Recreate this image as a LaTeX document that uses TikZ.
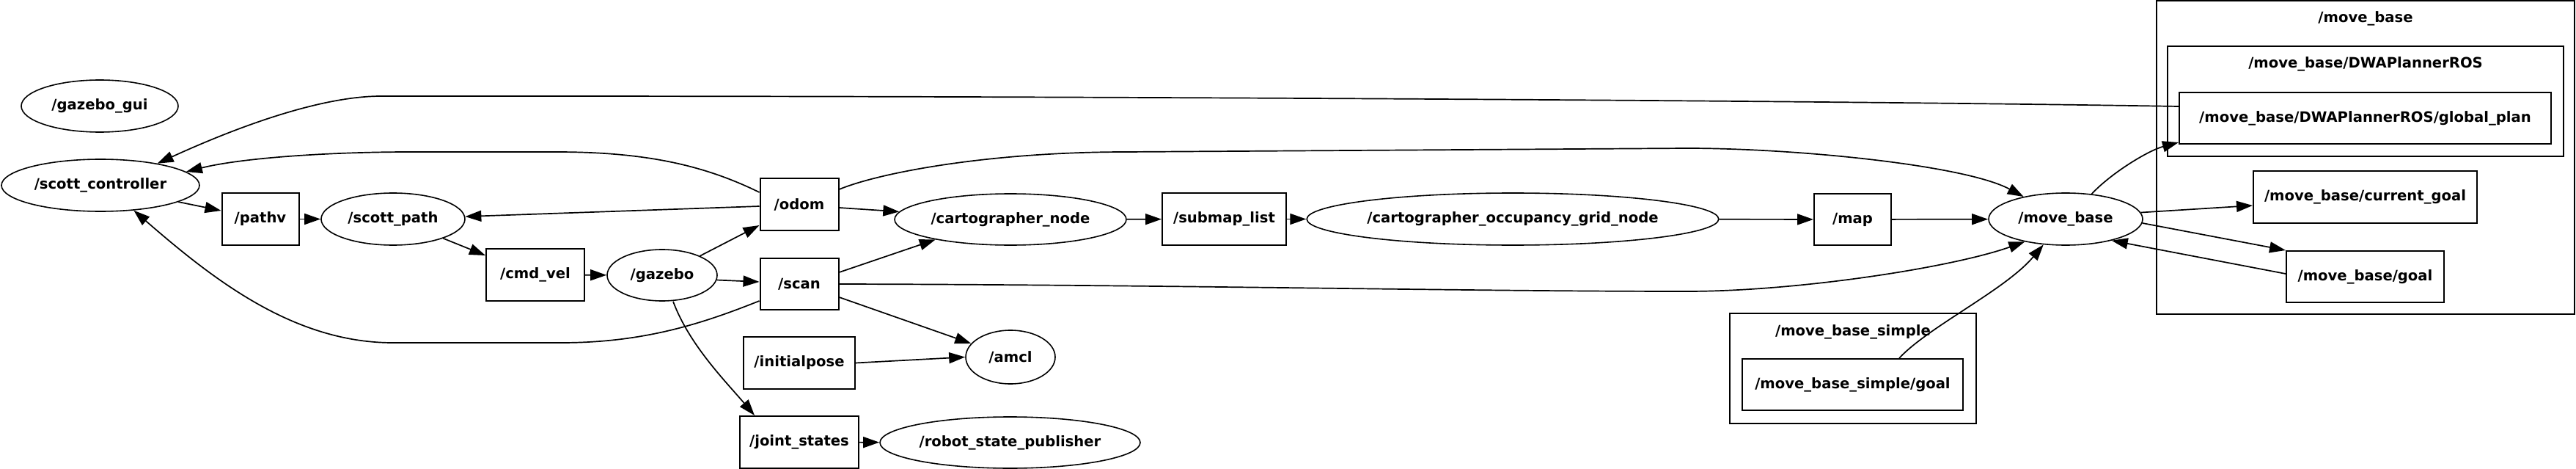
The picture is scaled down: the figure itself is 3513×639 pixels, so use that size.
\documentclass[tikz,border=0pt]{standalone}
\usepackage{fontspec}
\setmainfont{DejaVu Sans}
\usetikzlibrary{shapes.geometric,arrows.meta}
\begin{document}
\begin{tikzpicture}[x=1pt,y=-1pt,
  lbl/.style={font=\fontsize{19.6}{24}\selectfont\bfseries},
  topic/.style={draw, rectangle, line width=2pt, inner sep=0pt, lbl},
  nd/.style={draw, ellipse, line width=1.6pt, inner sep=0pt, lbl},
  cluster/.style={draw, rectangle, line width=2pt, inner sep=0pt},
  edge/.style={line width=1.7pt, -{Triangle[length=22pt,width=15pt]}}]
\useasboundingbox (0,0) rectangle (3513,639);
% clusters
\node[cluster, minimum width=570pt, minimum height=426pt] (cmb) at (3226,214.5) {};
\node[cluster, minimum width=540pt, minimum height=150pt] (cdwa) at (3226,138) {};
\node[cluster, minimum width=336pt, minimum height=150pt] (cmbs) at (2527,502) {};
\node[lbl] (cmbl) at (3226,25) {/move\_base};
\node[lbl] (cdwal) at (3226,87) {/move\_base/DWAPlannerROS};
\node[lbl] (cmbsl) at (2527,452) {/move\_base\_simple};
% nodes
\node[nd, minimum width=214pt, minimum height=71pt] (gui) at (136,144.5) {/gazebo\_gui};
\node[nd, minimum width=270pt, minimum height=71pt] (sc) at (137,252.5) {/scott\_controller};
\node[topic, minimum width=105pt, minimum height=71pt] (pathv) at (355,298.5) {/pathv};
\node[nd, minimum width=196pt, minimum height=71pt] (sp) at (536,298.5) {/scott\_path};
\node[topic, minimum width=134pt, minimum height=71pt] (cmd) at (730,374.5) {/cmd\_vel};
\node[nd, minimum width=150pt, minimum height=70pt] (gz) at (903,375) {/gazebo};
\node[topic, minimum width=107pt, minimum height=71pt] (odom) at (1090,278.5) {/odom};
\node[topic, minimum width=107pt, minimum height=70pt] (scan) at (1090,387) {/scan};
\node[topic, minimum width=152pt, minimum height=71pt] (ip) at (1090,494.5) {/initialpose};
\node[topic, minimum width=162pt, minimum height=71pt] (js) at (1090,602.5) {/joint\_states};
\node[nd, minimum width=122pt, minimum height=73pt] (amcl) at (1378,486.5) {/amcl};
\node[nd, minimum width=355pt, minimum height=70pt] (rsp) at (1377.5,603) {/robot\_state\_publisher};
\node[nd, minimum width=316pt, minimum height=70pt] (cn) at (1378,299) {/cartographer\_node};
\node[topic, minimum width=169pt, minimum height=71pt] (sl) at (1669.5,298.5) {/submap\_list};
\node[nd, minimum width=558pt, minimum height=71pt] (cog) at (2063,298.5) {/cartographer\_occupancy\_grid\_node};
\node[topic, minimum width=105pt, minimum height=70pt] (map) at (2526.5,299) {/map};
\node[nd, minimum width=210pt, minimum height=71pt] (mb) at (2817,298.5) {/move\_base};
\node[topic, minimum width=305pt, minimum height=71pt] (cg) at (3225.5,268.5) {/move\_base/current\_goal};
\node[topic, minimum width=215pt, minimum height=70pt] (goal) at (3225.5,377) {/move\_base/goal};
\node[topic, minimum width=507pt, minimum height=70pt] (gp) at (3225.5,161) {/move\_base/DWAPlannerROS/global\_plan};
\node[topic, minimum width=301pt, minimum height=70pt] (msg) at (2526.5,524) {/move\_base\_simple/goal};
% edges
\draw[edge] ([yshift=16pt]gp.west) .. controls (2500,137) and (1500,131) .. (700,131) -- (520,131) .. controls (440,131) and (330,170) .. (sc.21);
\draw[edge] ([yshift=16.5pt]odom.west) .. controls (960,225) and (880,207) .. (758,207) -- (560,207) .. controls (450,207) and (330,215) .. (sc.9);
\draw[edge] ([yshift=-2.5pt]odom.west) -- (sp.2);
\draw[edge] (sc.-12.5) -- ([yshift=11.5pt]pathv.west);
\draw[edge] (pathv) -- (sp);
\draw[edge] (sp.-21) -- ([yshift=26.5pt]cmd.west);
\draw[edge] (cmd) -- (gz);
\draw[edge] (gz.27) -- ([yshift=-28.5pt]odom.west);
\draw[edge] (gz.-5) -- ([yshift=3pt]scan.west);
\draw[edge] ([yshift=-23pt]scan.west) .. controls (960,440) and (880,467) .. (765,467) -- (536,467) .. controls (400,467) and (290,380) .. (sc.-37);
\draw[edge] ([xshift=15pt]gz.south) .. controls (940,470) and (990,520) .. ([xshift=-61pt]js.north);
\draw[edge] (js) -- (rsp);
\draw[edge] (ip.east) -- (amcl.west);
\draw[edge] ([yshift=-18pt]scan.east) -- (amcl.161);
\draw[edge] ([yshift=16pt]scan.east) -- (cn.195);
\draw[edge] ([yshift=-4.5pt]odom.east) -- (cn.176);
\draw[edge] ([yshift=20.5pt]odom.east) .. controls (1200,235) and (1350,207) .. (1536,207) -- (2300,202) .. controls (2450,202) and (2680,225) .. (mb.152);
\draw[edge] (scan.east) .. controls (1600,388) and (2000,397) .. (2300,397) .. controls (2450,397) and (2660,365) .. (mb.209);
\draw[edge] (cn) -- (sl);
\draw[edge] (sl) -- (cog);
\draw[edge] (cog) -- (map);
\draw[edge] (map) -- (mb);
\draw[edge] (mb.44) .. controls (2880,235) and (2930,205) .. ([yshift=3pt]gp.south west);
\draw[edge] (mb.5) -- ([yshift=-11.5pt]cg.west);
\draw[edge] (mb.-3) -- (goal.north west);
\draw[edge] ([yshift=4pt]goal.west) -- (mb.-25);
\draw[edge] ([xshift=63.5pt]msg.north) .. controls (2630,445) and (2735,395) .. (mb.229);
\end{tikzpicture}
\end{document}
